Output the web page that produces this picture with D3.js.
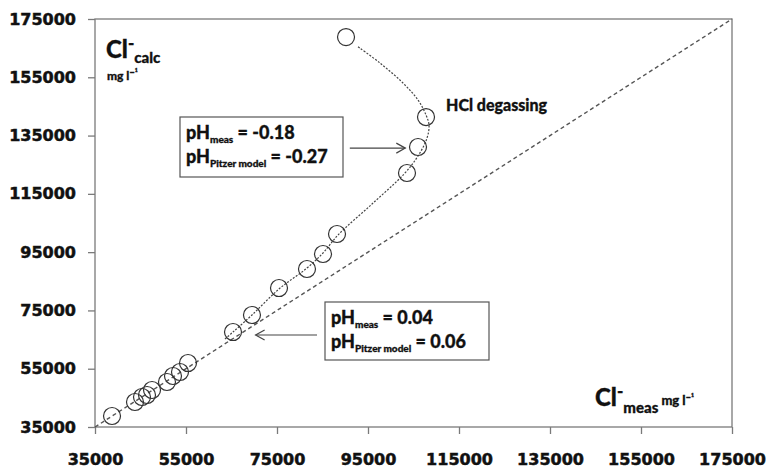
<!DOCTYPE html>
<html>
<head>
<meta charset="utf-8">
<script src="https://cdn.jsdelivr.net/npm/d3@7"></script>
<style>
  body { margin: 0; background: #fff; }
  svg text { fill: #111; }
</style>
</head>
<body>
<div id="chart"></div>
<script>
const clMeas = [38740, 43790, 45330, 46430, 47530, 50820, 52140, 53680, 55440,
  65330, 69500, 75440, 81590, 85110, 88190, 103570, 105990, 107750, 90170];
const clCalc = [38770, 43580, 45290, 45980, 47700, 50440, 52500, 53870, 56960,
  67600, 73430, 82690, 89210, 94360, 101220, 122150, 131070, 141360, 168810];

// trend curve (dotted) as traced on the figure
const trendMeas = [63570, 65330, 69500, 75440, 81590, 85110, 88410, 95880, 102910,
  105990, 107970, 108410, 107750, 105990, 102690, 97640, 92580];
const trendCalc = [65190, 67600, 73430, 82350, 89550, 94700, 100880, 111510, 121800,
  127980, 134160, 138620, 142050, 147190, 153030, 159890, 165720];

const xTicks = [35000, 55000, 75000, 95000, 115000, 135000, 155000, 175000];
const yTicks = [35000, 55000, 75000, 95000, 115000, 135000, 155000, 175000];

const W = 766, H = 470;
const margin = { top: 19, right: 34, bottom: 43, left: 95 };

const svg = d3.select("#chart").append("svg")
  .attr("width", W).attr("height", H);

const x = d3.scaleLinear().domain([35000, 175000]).range([margin.left, W - margin.right]);
const y = d3.scaleLinear().domain([35000, 175000]).range([H - margin.bottom, margin.top]);

const axisColor = "#7a7a7a";
const tickFont = "'DejaVu Sans', sans-serif";
const lblFont = "Lato, 'Open Sans', sans-serif";

// frame
svg.append("rect")
  .attr("x", x(35000)).attr("y", y(175000))
  .attr("width", x(175000) - x(35000)).attr("height", y(35000) - y(175000))
  .attr("fill", "none").attr("stroke", axisColor).attr("stroke-width", 1.3);

const gx = svg.append("g")
  .attr("transform", `translate(0,${y(35000)})`)
  .call(d3.axisBottom(x).tickValues(xTicks).tickFormat(d3.format("d")).tickSize(7).tickPadding(20));
const gy = svg.append("g")
  .attr("transform", `translate(${x(35000)},0)`)
  .call(d3.axisLeft(y).tickValues(yTicks).tickFormat(d3.format("d")).tickSize(7).tickPadding(12));

[gx, gy].forEach(g => {
  g.select(".domain").remove();
  g.selectAll(".tick line").attr("stroke", axisColor).attr("stroke-width", 1.3);
  g.selectAll(".tick text")
    .attr("font-family", tickFont).attr("font-weight", "bold")
    .attr("font-size", 16).attr("fill", "#111")
    .attr("stroke", "#111").attr("stroke-width", 0.5);
});

// 1:1 line
svg.append("line")
  .attr("x1", x(35000)).attr("y1", y(35000))
  .attr("x2", x(175000)).attr("y2", y(175000))
  .attr("stroke", "#555").attr("stroke-width", 1.4)
  .attr("stroke-dasharray", "4,3");

// trend curve
const trend = trendMeas.map((d, i) => [d, trendCalc[i]]);
svg.append("path")
  .datum(trend)
  .attr("d", d3.line().x(d => x(d[0])).y(d => y(d[1])).curve(d3.curveCatmullRom.alpha(0.5)))
  .attr("fill", "none").attr("stroke", "#444").attr("stroke-width", 1.2)
  .attr("stroke-dasharray", "2,1.5");

// points
svg.selectAll("circle.pt")
  .data(clMeas.map((d, i) => [d, clCalc[i]]))
  .enter().append("circle")
  .attr("class", "pt")
  .attr("cx", d => x(d[0])).attr("cy", d => y(d[1]))
  .attr("r", 8.5)
  .attr("fill", "none").attr("stroke", "#333").attr("stroke-width", 1.2);

// helper for text with sub/superscripts
function rich(g, px, py, parts) {
  const t = g.append("text").attr("x", px).attr("y", py)
    .attr("font-family", lblFont).attr("font-weight", 900)
    .attr("stroke", "#111").attr("stroke-width", 0.3);
  let shift = 0;
  parts.forEach(p => {
    const s = t.append("tspan").text(p.t).attr("font-size", p.s);
    const target = p.dy || 0;
    s.attr("dy", target - shift);
    shift = target;
  });
  return t;
}

// y axis title
rich(svg, 106, 58, [
  { t: "Cl", s: 24 }, { t: "-", s: 17, dy: -9 }, { t: "calc", s: 15, dy: 5 }
]);
rich(svg, 107, 80, [
  { t: "mg l", s: 12 }, { t: "\u2212\u00b9", s: 9, dy: -4 }
]);

// x axis title
rich(svg, 595, 406, [
  { t: "Cl", s: 24 }, { t: "-", s: 17, dy: -9 }, { t: "meas", s: 15, dy: 7 },
  { t: " mg l", s: 13, dy: -1 }, { t: "\u2212\u00b9", s: 9, dy: -5 }
]);

// HCl degassing
rich(svg, 446, 111, [{ t: "HCl degassing", s: 16 }]);

// annotation boxes
const boxes = [
  { x: 180, y: 117, w: 163, h: 60, meas: "-0.18", pitzer: "-0.27" },
  { x: 325, y: 302, w: 164, h: 58, meas: "0.04", pitzer: "0.06" }
];
boxes.forEach(b => {
  svg.append("rect").attr("x", b.x).attr("y", b.y).attr("width", b.w).attr("height", b.h)
    .attr("fill", "#fff").attr("stroke", "#555").attr("stroke-width", 1.2);
  rich(svg, b.x + 6, b.y + 22, [
    { t: "pH", s: 18 }, { t: "meas", s: 10, dy: 4 }, { t: " = " + b.meas, s: 18, dy: 0 }
  ]);
  rich(svg, b.x + 6, b.y + 46, [
    { t: "pH", s: 18 }, { t: "Pitzer model", s: 10, dy: 4 }, { t: " = " + b.pitzer, s: 18, dy: 0 }
  ]);
});

// arrows (data coordinates)
const arrows = [
  { from: [91000, 130700], to: [103200, 130700] },
  { from: [83800, 66570], to: [70300, 66570] }
];
arrows.forEach(a => {
  const x1 = x(a.from[0]), y1 = y(a.from[1]), x2 = x(a.to[0]), y2 = y(a.to[1]);
  const dir = Math.sign(x2 - x1);
  svg.append("line").attr("x1", x1).attr("y1", y1).attr("x2", x2).attr("y2", y2)
    .attr("stroke", "#444").attr("stroke-width", 1.2);
  svg.append("path")
    .attr("d", `M${x2 - dir * 9},${y2 - 5}L${x2},${y2}L${x2 - dir * 9},${y2 + 5}`)
    .attr("fill", "none").attr("stroke", "#444").attr("stroke-width", 1.2);
});
</script>
</body>
</html>
